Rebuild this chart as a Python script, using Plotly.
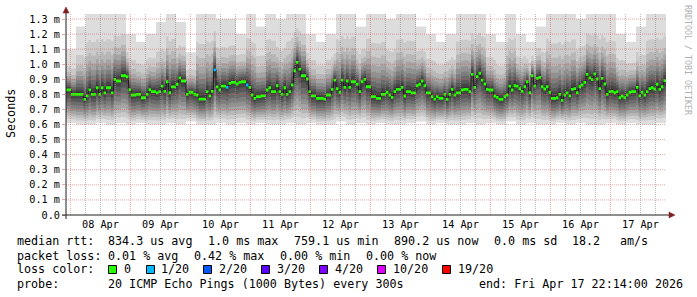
import plotly.graph_objects as go
from datetime import datetime, timedelta

# ---------------- data ----------------
START_TIME = "2026-04-07 22:14:00"
END_TIME = "2026-04-17 22:14:00"

# hourly median RTT (ms)
median_ms = [
    0.83, 0.83, 0.80, 0.80, 0.80, 0.80, 0.80, 0.767, 0.79, 0.83,
    0.80, 0.80, 0.844, 0.80, 0.844, 0.81, 0.844, 0.844, 0.81, 0.90,
    0.889, 0.889, 0.924, 0.924, 0.917, 0.831, 0.796, 0.796, 0.80, 0.80,
    0.778, 0.778, 0.80, 0.831, 0.818, 0.818, 0.81, 0.818, 0.855, 0.82,
    0.884, 0.811, 0.85, 0.85, 0.867, 0.91, 0.889, 0.889, 0.80, 0.814,
    0.814, 0.80, 0.796, 0.769, 0.769, 0.769, 0.818, 0.79, 0.82, 0.963,
    0.85, 0.829, 0.855, 0.855, 0.847, 0.873, 0.88, 0.88, 0.869, 0.88,
    0.884, 0.884, 0.862, 0.847, 0.796, 0.774, 0.785, 0.785, 0.79, 0.79,
    0.829, 0.844, 0.818, 0.818, 0.857, 0.818, 0.80, 0.844, 0.80, 0.818,
    0.862, 0.957, 1.012, 0.968, 0.924, 0.924, 0.902, 0.818, 0.79, 0.79,
    0.774, 0.774, 0.774, 0.769, 0.796, 0.796, 0.833, 0.895, 0.838, 0.814,
    0.895, 0.847, 0.889, 0.847, 0.884, 0.884, 0.867, 0.818, 0.884, 0.90,
    0.851, 0.851, 0.785, 0.785, 0.774, 0.774, 0.80, 0.80, 0.814, 0.796,
    0.78, 0.818, 0.833, 0.833, 0.847, 0.789, 0.818, 0.818, 0.81, 0.81,
    0.857, 0.867, 0.889, 0.857, 0.81, 0.81, 0.785, 0.769, 0.785, 0.774,
    0.774, 0.80, 0.767, 0.80, 0.833, 0.796, 0.81, 0.81, 0.829, 0.833,
    0.833, 0.818, 0.933, 0.847, 0.917, 0.94, 0.895, 0.869, 0.833, 0.829,
    0.829, 0.789, 0.78, 0.767, 0.767, 0.785, 0.796, 0.855, 0.829, 0.857,
    0.855, 0.838, 0.82, 0.851, 0.884, 0.811, 0.924, 0.855, 0.906, 0.913,
    0.851, 0.836, 0.851, 0.814, 0.774, 0.774, 0.778, 0.80, 0.76, 0.796,
    0.81, 0.79, 0.833, 0.838, 0.811, 0.851, 0.862, 0.88, 0.933, 0.91,
    0.898, 0.935, 0.902, 0.838, 0.906, 0.869, 0.80, 0.818, 0.82, 0.811,
    0.818, 0.778, 0.789, 0.778, 0.796, 0.814, 0.818, 0.818, 0.847, 0.79,
    0.814, 0.796, 0.818, 0.838, 0.844, 0.836, 0.867, 0.833, 0.851, 0.891,
]

# hour index -> number of lost pings (out of 20); every other hour lost none
loss_events = {59: 1, 64: 1, 72: 1}

# smoke envelope per 4-hour block (ms): fastest and slowest of the 20 pings
SMOKE_BLOCK_HOURS = 4
smoke_min_ms = [
    0.61, 0.60, 0.60, 0.61, 0.60, 0.61, 0.60, 0.61, 0.60, 0.60,
    0.61, 0.60, 0.62, 0.60, 0.60, 0.61, 0.60, 0.61, 0.60, 0.61,
    0.60, 0.60, 0.61, 0.60, 0.61, 0.60, 0.60, 0.62, 0.60, 0.61,
    0.60, 0.61, 0.60, 0.60, 0.61, 0.62, 0.60, 0.61, 0.60, 0.60,
    0.61, 0.60, 0.61, 0.60, 0.62, 0.60, 0.61, 0.60, 0.60, 0.61,
    0.60, 0.61, 0.60, 0.60, 0.61, 0.60, 0.61, 0.60, 0.60, 0.61,
]
smoke_max_ms = [
    1.10, 1.25, 1.40, 1.40, 1.40, 1.40, 1.20, 1.15, 1.20, 1.28,
    1.40, 1.28, 1.08, 1.40, 1.40, 1.30, 1.30, 1.20, 1.40, 1.25,
    1.40, 1.30, 1.40, 1.40, 1.20, 1.15, 1.20, 1.40, 1.40, 1.25,
    1.40, 1.40, 1.30, 1.40, 1.40, 1.25, 1.20, 1.15, 1.20, 1.40,
    1.40, 1.40, 1.20, 1.15, 1.40, 1.20, 1.15, 1.25, 1.40, 1.40,
    1.40, 1.30, 1.40, 1.40, 1.40, 1.20, 1.15, 1.25, 1.40, 1.40,
]
# where ping ranks sit between the median and the envelope
lower_rank_frac = [1.00, 0.87, 0.77, 0.68, 0.58, 0.48, 0.37, 0.25, 0.14, 0.05]  # pings 1..10
upper_rank_frac = [0.03, 0.07, 0.11, 0.16, 0.21, 0.27, 0.34, 0.43, 0.58, 1.00]  # pings 11..20

Y_MAX = 1.3333
y_tick_values = [0.0, 0.1, 0.2, 0.3, 0.4, 0.5, 0.6, 0.7, 0.8, 0.9, 1.0, 1.1, 1.2, 1.3]
y_tick_labels = ["0.0", "0.1 m", "0.2 m", "0.3 m", "0.4 m", "0.5 m", "0.6 m",
                 "0.7 m", "0.8 m", "0.9 m", "1.0 m", "1.1 m", "1.2 m", "1.3 m"]
day_labels = ["08 Apr", "09 Apr", "10 Apr", "11 Apr", "12 Apr",
              "13 Apr", "14 Apr", "15 Apr", "16 Apr", "17 Apr"]
day_label_times = ["2026-04-08 12:00", "2026-04-09 12:00", "2026-04-10 12:00",
                   "2026-04-11 12:00", "2026-04-12 12:00", "2026-04-13 12:00",
                   "2026-04-14 12:00", "2026-04-15 12:00", "2026-04-16 12:00",
                   "2026-04-17 12:00"]

loss_labels = ["0", "1/20", "2/20", "3/20", "4/20", "10/20", "19/20"]
loss_thresholds = [0, 1, 2, 3, 4, 10, 19]
loss_colors = ["#26ff00", "#00b8ff", "#0059ff", "#5e00ff", "#7e00ff", "#dd00ff", "#ff0000"]

stats_rtt = ["median rtt:", "834.3 us avg", "1.0 ms max", "759.1 us min",
             "890.2 us now", "0.0 ms sd", "18.2", "am/s"]
stats_loss = ["packet loss:", "0.01 % avg", "0.42 % max", "0.00 % min", "0.00 % now"]
probe_label = "probe:"
probe_text = "20 ICMP Echo Pings (1000 Bytes) every 300s"
end_text = "end: Fri Apr 17 22:14:00 2026"
watermark = "RRDTOOL / TOBI OETIKER"
y_title = "Seconds"

# ---------------- layout geometry / style ----------------
W, H = 697, 297
PL, PR, PT, PB = 66, 666, 14, 215
FONT = "DejaVu Sans Mono"
LEG_SIZE = 11.7
AX_SIZE = 10.2
MAJOR = "rgba(222,79,79,0.5)"
MINOR = "rgba(143,143,143,0.65)"
ARROW = "#801f1f"
AXIS = "#1f1f1f"
MEDIAN_HALF = 0.0095


def px(x):
    return (x - PL) / (PR - PL)


def py(y):
    return (PB - y) / (PB - PT)


t0 = datetime.strptime(START_TIME, "%Y-%m-%d %H:%M:%S")
t_end = datetime.strptime(END_TIME, "%Y-%m-%d %H:%M:%S")
n = len(median_ms)
edges = [t0 + timedelta(hours=i) for i in range(n + 1)]


def stepy(vals):
    return list(vals) + [vals[-1]]


fig = go.Figure()

# smoke: 10 nested bands, outer light -> inner dark (smokeping colouring)
half = 10
for b in range(half):
    lo, hi = [], []
    for i, med in enumerate(median_ms):
        blk = i // SMOKE_BLOCK_HOURS
        mn, mx = smoke_min_ms[blk], smoke_max_ms[blk]
        lo.append(med - lower_rank_frac[b] * (med - mn))
        hi.append(med + upper_rank_frac[half - 1 - b] * (mx - med))
    g = int(190 / half * (half - (b + 1))) + 50
    fig.add_trace(go.Scatter(x=edges, y=stepy(lo), mode="lines",
                             line=dict(width=0, shape="hv"),
                             hoverinfo="skip", showlegend=False))
    fig.add_trace(go.Scatter(x=edges, y=stepy(hi), mode="lines",
                             line=dict(width=0, shape="hv"), fill="tonexty",
                             fillcolor=f"rgb({g},{g},{g})",
                             hoverinfo="skip", showlegend=False))

# thin dark median line
fig.add_trace(go.Scatter(x=edges, y=stepy(median_ms), mode="lines",
                         line=dict(width=1, shape="hv", color="#202020"),
                         hoverinfo="skip", showlegend=False))


def loss_index(k):
    for j, th in enumerate(loss_thresholds):
        if k <= th:
            return j
    return len(loss_thresholds) - 1


# median blocks coloured by packet loss
for j, col in enumerate(loss_colors):
    xs, ys = [], []
    for i, med in enumerate(median_ms):
        if loss_index(loss_events.get(i, 0)) != j:
            continue
        a, b2 = edges[i], edges[i + 1]
        xs += [a, b2, b2, a, a, None]
        ys += [med - MEDIAN_HALF, med - MEDIAN_HALF, med + MEDIAN_HALF,
               med + MEDIAN_HALF, med - MEDIAN_HALF, None]
    if xs:
        fig.add_trace(go.Scatter(x=xs, y=ys, mode="lines", fill="toself",
                                 fillcolor=col, line=dict(width=0, color=col),
                                 hoverinfo="skip", showlegend=False))

shapes = []
# horizontal grid
for v in y_tick_values[1:]:
    shapes.append(dict(type="line", xref="paper", yref="y", x0=0, x1=1, y0=v, y1=v,
                       line=dict(color=MAJOR, width=1, dash="1px,1px"), layer="above"))
# vertical grid (6 h minor, 1 day major)
t = datetime(t0.year, t0.month, t0.day) + timedelta(days=1)
while t < t_end:
    col = MAJOR if t.hour == 0 else MINOR
    shapes.append(dict(type="line", xref="x", yref="paper", x0=t, x1=t, y0=0, y1=1,
                       line=dict(color=col, width=1, dash="1px,1px"), layer="above"))
    t += timedelta(hours=6)
# axes with arrows
shapes.append(dict(type="line", xref="paper", yref="paper", x0=px(62), x1=px(670),
                   y0=0, y1=0, line=dict(color=AXIS, width=1), layer="above"))
shapes.append(dict(type="line", xref="paper", yref="paper", x0=0, x1=0,
                   y0=py(219), y1=py(11), line=dict(color=AXIS, width=1), layer="above"))
shapes.append(dict(type="path", xref="paper", yref="paper",
                   path=f"M {px(63)},{py(13)} L {px(69)},{py(13)} L {px(66)},{py(7)} Z",
                   fillcolor=ARROW, line=dict(color=ARROW, width=0.5), layer="above"))
shapes.append(dict(type="path", xref="paper", yref="paper",
                   path=f"M {px(669)},{py(212)} L {px(669)},{py(218)} L {px(675)},{py(215)} Z",
                   fillcolor=ARROW, line=dict(color=ARROW, width=0.5), layer="above"))

annotations = []


def text(x, y, s, size=LEG_SIZE, color="black", xanchor="left", angle=0):
    annotations.append(dict(xref="paper", yref="paper", x=px(x), y=py(y), text=s,
                            showarrow=False, xanchor=xanchor, yanchor="middle",
                            textangle=angle, borderpad=0,
                            font=dict(family=FONT, size=size, color=color)))


# legend line 1
for s, x in zip(stats_rtt, [16, 107, 207, 293, 393, 493, 571, 619]):
    text(x, 241, s)
# legend line 2
for s, x in zip(stats_loss, [16, 107, 193, 279, 365]):
    text(x, 255.5, s)
# legend line 3
text(16, 269, "loss color:")
box_x = [108, 146, 203, 261, 319, 377, 442]
lab_x = [123, 160, 218, 276, 334, 392, 457]
for lab, c, bx, lx in zip(loss_labels, loss_colors, box_x, lab_x):
    shapes.append(dict(type="rect", xref="paper", yref="paper",
                       x0=px(bx + 0.5), x1=px(bx + 8.5), y0=py(265.5), y1=py(273.5),
                       fillcolor=c, line=dict(color="black", width=1), layer="above"))
    text(lx, 269, lab)
# legend line 4
text(16, 283.5, probe_label)
text(107, 283.5, probe_text)
text(478, 283.5, end_text)
# axis title and watermark
text(11, 114, y_title, xanchor="center", angle=-90)
text(688, 60, watermark, size=8.3, color="#b0b0b0", xanchor="center", angle=90)

fig.update_layout(
    width=W, height=H, autosize=False,
    margin=dict(l=PL, r=W - PR, t=PT, b=H - PB, pad=0),
    paper_bgcolor="white", plot_bgcolor="white",
    showlegend=False,
    shapes=shapes, annotations=annotations,
    xaxis=dict(type="date", range=[t0, t_end], showgrid=False, zeroline=False,
               showline=False, tickvals=day_label_times, ticktext=day_labels,
               ticks="", ticklabelstandoff=2,
               tickfont=dict(family=FONT, size=AX_SIZE, color="black"),
               fixedrange=True),
    yaxis=dict(range=[0, Y_MAX], showgrid=False, zeroline=False, showline=False,
               tickvals=y_tick_values, ticktext=y_tick_labels, ticks="outside",
               ticklen=3, tickcolor=MAJOR,
               tickfont=dict(family=FONT, size=AX_SIZE, color="black"),
               fixedrange=True),
)

fig.write_html("out.html")
